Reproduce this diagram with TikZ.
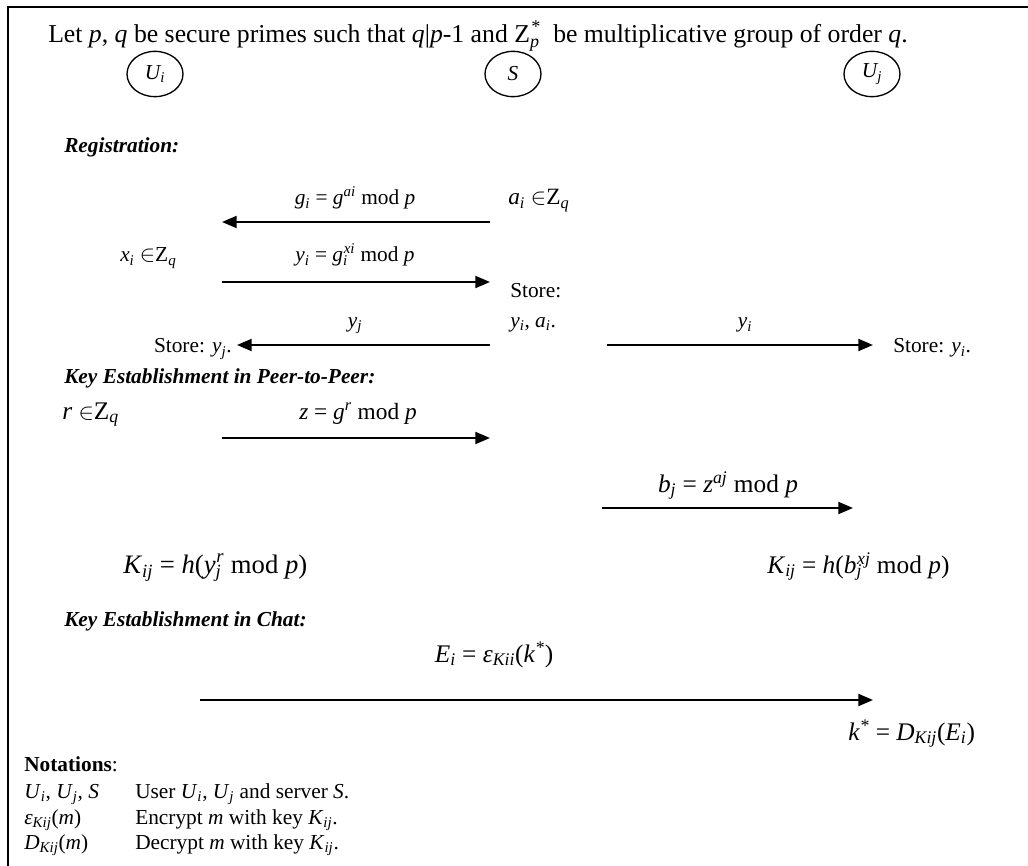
\documentclass[tikz,border=0pt]{standalone}
\usepackage{fontspec}
\setmainfont{Liberation Serif}
\usetikzlibrary{arrows.meta,shapes.geometric}

\newcommand{\ilo}[1]{\textsubscript{\itshape #1}}
\newcommand{\ihi}[1]{\textsuperscript{\itshape #1}}
\newcommand{\ilohi}[2]{\textsubscript{\rlap{\itshape #1}}\textsuperscript{\itshape #2}}
\newcommand{\inZq}{ $\in$Z\ilo{q}}
\newcommand{\eqsize}{\fontsize{19}{22}\selectfont}

\begin{document}
\begin{tikzpicture}[x=0.75pt,y=-0.75pt,font=\fontsize{16}{19}\selectfont,
  msg/.style={-{Triangle[length=11pt,width=9pt]},line width=1.5pt},
  party/.style={draw,ellipse,minimum width=42pt,minimum height=34pt,inner sep=0pt,line width=1pt},
  txt/.style={anchor=base west,inner sep=0pt},
  lbl/.style={anchor=base,inner sep=0pt}]
  \useasboundingbox (0,0) rectangle (1028,866);
  \draw[line width=1.5pt] (8,866) -- (8,7) -- (1028,7);

  \node[txt,font=\fontsize{19.3}{22}\selectfont] (intro) at (48,43) {Let \textit{p}, \textit{q} be secure primes such that \textit{q}|\textit{p}-1 and Z\ilohi{p}{*}\ \ be multiplicative group of order \textit{q}.};

  % parties
  \foreach \n/\x/\t in {ui/155/U\ilo{i},s/513/S,uj/872/U\ilo{j}}
    \node[party] (\n) at (\x,74) {\textit{\t}};

  % messages
  \foreach \n/\xa/\xb/\y in {ra/490/222/222,rb/222/490/282,rc/490/237/345,rd/607/873/345,
                             pa/222/490/438,pb/602/853/508,ca/200/873/700} {
    \coordinate (\n1) at (\xa,\y);
    \coordinate (\n2) at (\xb,\y);
    \draw[msg] (\n1) -- (\n2);
  }

  % registration
  \node[txt] (reg) at (64,153) {\textbf{\textit{Registration:}}};
  \node[lbl] (ga) at (355,205) {\textit{g}\ilo{i} = \textit{g}\ihi{ai} mod \textit{p}};
  \node[txt,font=\fontsize{17.5}{20}\selectfont] (ai) at (508,205) {\textit{a}\ilo{i}\inZq};
  \node[txt] (xi) at (120,262) {\textit{x}\ilo{i}\inZq};
  \node[lbl] (yi) at (355,262) {\textit{y}\ilo{i} = \textit{g}\ilohi{i}{xi} mod \textit{p}};
  \node[txt] (st1) at (510,298) {Store:};
  \node[txt] (st2) at (510,327) {\textit{y}\ilo{i}, \textit{a}\ilo{i}.};
  \node[lbl] (yj) at (355,327) {\textit{y}\ilo{j}};
  \node[anchor=base east,inner sep=0pt] (stj) at (232,353) {Store: \textit{y}\ilo{j}.};
  \node[lbl] (yi2) at (745,328) {\textit{y}\ilo{i}};
  \node[txt] (sti) at (893,353) {Store: \textit{y}\ilo{i}.};

  % peer-to-peer
  \node[txt] (p2p) at (64,383) {\textbf{\textit{Key Establishment in Peer-to-Peer:}}};
  \node[txt,font=\eqsize] (r) at (62,419) {\textit{r}\inZq};
  \node[lbl,font=\fontsize{17.5}{20}\selectfont] (z) at (358,419) {\textit{z} = \textit{g}\ihi{r} mod \textit{p}};
  \node[lbl,font=\eqsize] (bj) at (728,492) {\textit{b}\ilo{j} = \textit{z}\ihi{aj} mod \textit{p}};
  \node[txt,font=\fontsize{20}{23}\selectfont] (ki) at (123,573) {\textit{K}\ilo{ij} = \textit{h}(\textit{y}\ilohi{j}{r} mod \textit{p})};
  \node[txt,font=\eqsize] (kj) at (767,573) {\textit{K}\ilo{ij} = \textit{h}(\textit{b}\ilohi{j}{xj} mod \textit{p})};

  % chat
  \node[txt] (chat) at (64,626) {\textbf{\textit{Key Establishment in Chat:}}};
  \node[lbl,font=\eqsize] (ei) at (494,662) {\textit{E}\ilo{i} = \textit{ε}\ilo{Kii}(\textit{k}\ihi{*})};
  \node[txt,font=\eqsize] (dk) at (848,740) {\textit{k}\ihi{*} = \textit{D}\ilo{Kij}(\textit{E}\ilo{i})};

  % notations
  \node[txt] (nt) at (24,771) {\textbf{Notations}:};
  \foreach \y/\a/\b in {798/\textit{U}\ilo{i}{, }\textit{U}\ilo{j}{, }\textit{S}/User \textit{U}\ilo{i}{, }\textit{U}\ilo{j} and server \textit{S}.,
                        824/\textit{ε}\ilo{Kij}(\textit{m})/Encrypt \textit{m} with key \textit{K}\ilo{ij}.,
                        849/\textit{D}\ilo{Kij}(\textit{m})/Decrypt \textit{m} with key \textit{K}\ilo{ij}.} {
    \node[txt] at (24,\y) {\a};
    \node[txt] at (135,\y) {\b};
  }
\end{tikzpicture}
\end{document}
